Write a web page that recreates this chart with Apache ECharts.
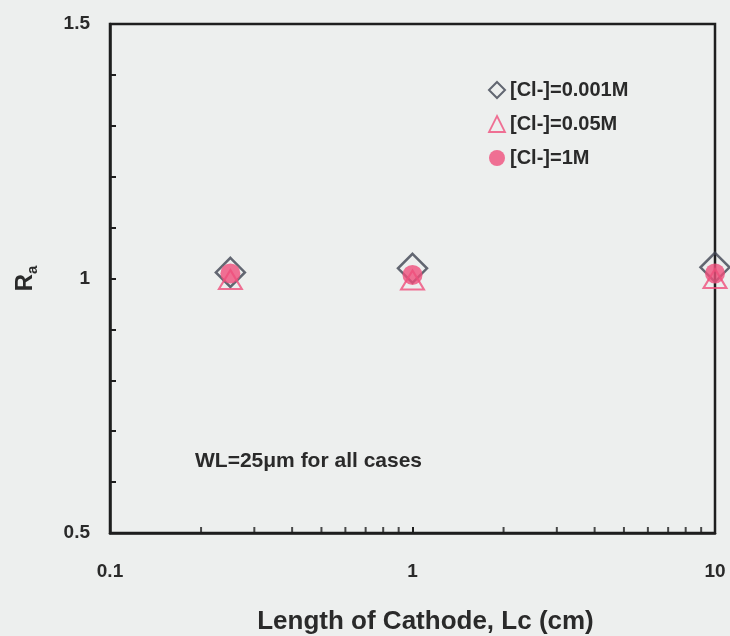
<!DOCTYPE html>
<html>
<head>
<meta charset="utf-8">
<script src="https://cdn.jsdelivr.net/npm/echarts@6/dist/echarts.min.js"></script>
<style>
  html, body { margin: 0; padding: 0; background: #edefee; }
  #chart { width: 730px; height: 636px; }
</style>
</head>
<body>
<div id="chart"></div>
<script>
// 数据
const lengths = [0.25, 1, 10]
const cl0001 = [1.012, 1.02, 1.022]
const cl005 = [0.998, 0.997, 1.0]
const cl1 = [1.01, 1.007, 1.01]
const seriesNames = ['[Cl-]=0.001M', '[Cl-]=0.05M', '[Cl-]=1M']
// 对数轴的次刻度 (2..9)
const minorTicksX = [0.2, 0.3, 0.4, 0.5, 0.6, 0.7, 0.8, 0.9, 2, 3, 4, 5, 6, 7, 8, 9]

const pink = '#ef4f7c'
const dark = '#3f4451'
const textColor = '#2a2a2a'
const font = 'Liberation Sans, Arial, sans-serif'

const pairs = (xs, ys) => xs.map((x, i) => [x, ys[i]])

const chart = echarts.init(document.getElementById('chart'))
const option = {
  backgroundColor: '#edefee',
  animation: false,
  grid: {
    left: 110, right: 15, top: 24, bottom: 103,
    outerBoundsMode: 'none', containLabel: false,
    show: true, borderColor: '#1e1e1e', borderWidth: 2.5,
    backgroundColor: 'transparent'
  },
  legend: {
    left: 483, top: 75, orient: 'vertical',
    itemWidth: 16, itemHeight: 16, itemGap: 14,
    textStyle: { fontFamily: font, fontWeight: 'bold', fontSize: 20, color: textColor },
    data: [
      { name: seriesNames[0], icon: 'diamond', itemStyle: { color: 'transparent', borderColor: dark, borderWidth: 2 } },
      { name: seriesNames[1], icon: 'triangle', itemStyle: { color: 'transparent', borderColor: pink, borderWidth: 1.8 } },
      { name: seriesNames[2], icon: 'circle', itemStyle: { color: pink } }
    ]
  },
  xAxis: {
    type: 'log', logBase: 10, min: 0.1, max: 10,
    name: 'Length of Cathode, Lc (cm)',
    nameLocation: 'middle', nameGap: 76,
    nameTextStyle: { fontFamily: font, fontWeight: 'bold', fontSize: 26, color: textColor, padding: [0, 0, 0, 26] },
    axisLine: { lineStyle: { color: '#1e1e1e', width: 2.5 } },
    axisTick: { inside: true, length: 6, lineStyle: { color: '#1e1e1e', width: 2 } },
    axisLabel: {
      margin: 29, fontFamily: font, fontWeight: 'bold', fontSize: 19, color: textColor,
      formatter: (v) => String(+v.toPrecision(3))
    },
    splitLine: { show: false }
  },
  yAxis: {
    type: 'value', min: 0.5, max: 1.5, interval: 0.5,
    name: '{r|R}{s|a}',
    nameLocation: 'middle', nameGap: 70, nameRotate: 90,
    nameTextStyle: {
      rich: {
        r: { fontFamily: font, fontWeight: 'bold', fontSize: 24, color: textColor },
        s: { fontFamily: font, fontWeight: 'bold', fontSize: 15, color: textColor, padding: [14, 0, 0, 0] }
      }
    },
    axisLine: { lineStyle: { color: '#1e1e1e', width: 2.5 } },
    axisTick: { inside: true, length: 6, lineStyle: { color: '#1e1e1e', width: 2 } },
    minorTick: { show: true, splitNumber: 5, length: 6, lineStyle: { color: '#1e1e1e', width: 2 } },
    axisLabel: { margin: 20, fontFamily: font, fontWeight: 'bold', fontSize: 19, color: textColor },
    splitLine: { show: false }
  },
  graphic: [{
    type: 'text', left: 195, top: 451,
    style: { text: 'WL=25μm for all cases', fontFamily: font, fontWeight: 'bold', fontSize: 21, fill: textColor }
  }],
  series: [
    {
      // 对数轴次刻度
      type: 'scatter', silent: true, clip: false, legendHoverLink: false,
      data: minorTicksX.map((v) => [v, 0.5]),
      symbol: 'rect', symbolSize: [2, 6], symbolOffset: [0, -3],
      itemStyle: { color: '#1e1e1e' }, z: 1
    },
    {
      name: seriesNames[0], type: 'scatter', clip: false,
      data: pairs(lengths, cl0001),
      symbol: 'diamond', symbolSize: 29,
      itemStyle: { color: 'transparent', borderColor: dark, borderWidth: 2.5 }, z: 2
    },
    {
      name: seriesNames[1], type: 'scatter', clip: false,
      data: pairs(lengths, cl005),
      symbol: 'triangle', symbolSize: [23, 19],
      itemStyle: { color: 'transparent', borderColor: pink, borderWidth: 2 }, z: 3
    },
    {
      name: seriesNames[2], type: 'scatter', clip: false,
      data: pairs(lengths, cl1),
      symbol: 'circle', symbolSize: 20,
      itemStyle: { color: pink }, z: 4
    }
  ]
}
chart.setOption(option)
</script>
</body>
</html>
